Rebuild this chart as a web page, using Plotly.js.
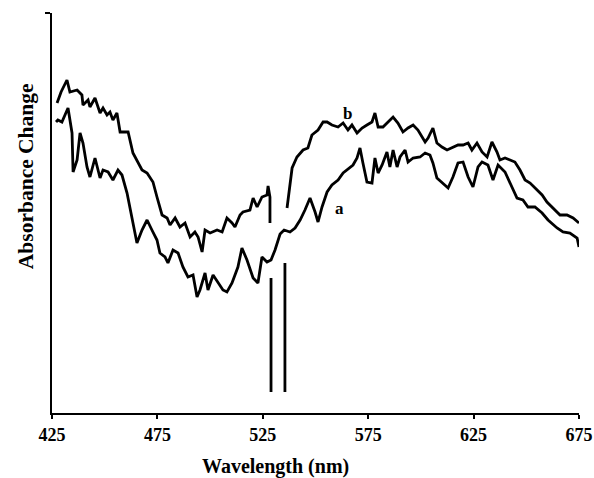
<!DOCTYPE html>
<html>
<head>
<meta charset="utf-8">
<script src="https://cdn.plot.ly/plotly-3.0.1.min.js"></script>
<style>html,body{margin:0;padding:0;background:#fff;}#chart{width:594px;height:478px;}</style>
</head>
<body>
<div id="chart"></div>
<script>
// Wavelength ticks
const tickValues = [425, 475, 525, 575, 625, 675];
const tickLabels = ["425", "475", "525", "575", "625", "675"];

// Curve a
const wavelengthA = [
  426.9, 427.8, 429.7, 432.6, 434.5, 435.0, 436.9, 438.3, 439.7, 441.6,
  443.0, 445.4, 447.8, 449.2, 451.6, 453.9, 456.3, 458.2, 460.6, 463.0,
  465.3, 467.7, 470.1, 472.4, 474.8, 476.2, 478.6, 480.0, 482.4, 484.8,
  487.1, 489.5, 491.9, 493.8, 495.2, 497.6, 499.0, 501.4, 503.8, 506.1,
  508.0, 510.4, 513.2, 515.1, 517.5, 520.4, 522.7, 524.6, 527.0, 528.9,
  530.8, 533.2, 535.1, 537.9, 540.3, 542.7, 545.0, 547.4, 549.8, 551.2,
  553.1, 555.5, 557.8, 560.7, 563.1, 565.0, 566.4, 567.8, 569.7, 571.1,
  572.5, 574.4, 576.8, 578.2, 579.7, 581.6, 583.9, 585.3, 586.8, 588.7,
  590.1, 592.5, 593.9, 596.3, 599.6, 602.0, 604.3, 605.7, 607.6, 610.5,
  612.9, 615.2, 617.6, 620.0, 622.4, 624.7, 627.1, 629.0, 631.8, 634.2,
  636.6, 639.9, 643.2, 645.6, 648.4, 650.8, 654.1, 657.5, 660.3, 664.6,
  667.4, 670.7, 674.1, 675.0
];
const absorbanceA = [
  72.75, 73.25, 72.75, 76.25, 70, 60.25, 63.25, 70, 67.5, 61.5,
  59, 63.75, 58.75, 60.75, 60.25, 58.25, 60.75, 59.5, 55, 48.75,
  42.5, 45.75, 48.25, 45.75, 43.25, 40, 39, 37.5, 40.75, 40,
  36.5, 34, 34.5, 29, 30.75, 35, 30.75, 34.5, 32.5, 30.75,
  30.25, 32.5, 36.5, 41.25, 38.25, 33.75, 32.5, 39, 37.75, 38.25,
  40.75, 44.75, 45.75, 45.25, 46.25, 48.25, 50.75, 53.75, 50.25, 47.75,
  51.5, 55.25, 57, 58.25, 60, 60.75, 61.25, 62, 63.75, 66.25,
  62.5, 57.75, 57.5, 63.75, 60, 62, 65.25, 61.5, 65.75, 61.5,
  64, 65.75, 62.75, 63.75, 64, 65, 64.5, 62.5, 58.75, 57.5,
  56.25, 59, 62.5, 62.75, 59, 56.5, 61.5, 62.75, 62, 58.25,
  62, 60.25, 56.5, 53.75, 53.25, 51.5, 51.5, 50, 48.25, 46.25,
  45.25, 45, 43.75, 41.5
];

// Curve b (null = break in the trace)
const wavelengthB = [
  427.4, 429.3, 432.1, 433.5, 436.9, 439.2, 439.7, 442.1, 443.0, 445.4,
  447.8, 449.2, 451.1, 452.5, 453.9, 455.8, 457.3, 461.1, 463.4, 467.7,
  470.1, 472.9, 474.8, 477.2, 479.6, 481.0, 483.4, 485.7, 488.1, 490.5,
  492.8, 494.3, 496.2, 497.6, 500.0, 503.3, 505.7, 508.0, 510.4, 511.8,
  514.2, 515.6, 518.9, 520.4, 522.3, 524.6, 527.0, 527.5, 528.4, 528.4,
  null, 528.9, 528.9, null, 535.5, 535.5, null,
  536.5, 538.9, 541.2, 544.1, 546.4, 548.3, 551.2, 553.6, 555.5, 557.8,
  560.7, 563.1, 565.4, 567.3, 569.7, 572.1, 574.4, 576.8, 578.2, 579.7,
  582.0, 584.4, 586.8, 589.1, 591.5, 593.9, 596.3, 598.6, 602.0, 603.4,
  605.7, 607.6, 610.0, 612.4, 614.8, 617.6, 620.0, 622.4, 624.2, 626.6,
  629.0, 631.4, 633.7, 636.1, 637.5, 639.9, 642.3, 644.6, 647.0, 649.4,
  651.8, 654.1, 657.5, 659.8, 662.7, 666.0, 669.3, 672.2, 675.0
];
const absorbanceB = [
  77.5, 80.25, 83.25, 80.25, 80.75, 79.5, 77, 78.25, 76.5, 78.75,
  75, 76.25, 74.5, 75.25, 73.25, 75, 70.25, 70.25, 65, 60.75,
  60, 57.75, 54, 49.5, 48.75, 47, 48.75, 46.5, 47.5, 44,
  45.25, 44, 40.25, 45.75, 45, 45.75, 45.25, 48.75, 47.5, 46.5,
  49.5, 50.25, 50.75, 53.75, 51.5, 54, 54.5, 56.75, 54, 47.5,
  null, 33.75, 5.25, null, 5.25, 37.5, null,
  51.25, 61.25, 64, 65.75, 66.25, 69.5, 70.75, 72.75, 72.75, 72,
  71.5, 72.5, 70.75, 72, 70, 71.25, 72, 72.75, 75, 71.5,
  71.5, 72.75, 74, 72.5, 70.25, 71.25, 72, 70.75, 67.75, 68.75,
  71.25, 67.5, 66.5, 65.75, 66.25, 67, 67, 67.5, 65.75, 67.5,
  65.25, 64, 67.75, 65.25, 63.25, 63.75, 63.25, 62.75, 60.75, 58.25,
  57.5, 56.25, 54.5, 52.75, 51.25, 49.5, 49.5, 48.75, 47.5
];

const curveLabels = ["a", "b"];
const labelWavelength = [561.6, 565.0];
const labelAbsorbance = [51.25, 75];

const serif = "Liberation Serif, Times New Roman, serif";

const traces = [
  {x: wavelengthA, y: absorbanceA, type: "scatter", mode: "lines", name: "a",
   line: {color: "#000", width: 2.8}, connectgaps: false, hoverinfo: "x+y"},
  {x: wavelengthB, y: absorbanceB, type: "scatter", mode: "lines", name: "b",
   line: {color: "#000", width: 2.8}, connectgaps: false, hoverinfo: "x+y"}
];

const annotations = curveLabels.map((t, i) => ({
  x: labelWavelength[i], y: labelAbsorbance[i], xref: "x", yref: "y",
  text: "<b>" + t + "</b>", showarrow: false,
  font: {family: serif, size: 17, color: "#000"}
}));
annotations.push({
  x: 0.425, y: -0.1325, xref: "paper", yref: "paper", xanchor: "center", yanchor: "middle",
  text: "<b>Wavelength (nm)</b>", showarrow: false,
  font: {family: serif, size: 20, color: "#000"}
});
annotations.push({
  x: -0.049, y: 0.5925, xref: "paper", yref: "paper", xanchor: "center", yanchor: "middle",
  text: "<b>Absorbance Change</b>", showarrow: false, textangle: -90,
  font: {family: serif, size: 21.5, color: "#000"}
});

const layout = {
  width: 594, height: 478,
  margin: {l: 52, r: 15, t: 13, b: 65},
  paper_bgcolor: "#fff", plot_bgcolor: "#fff",
  showlegend: false,
  xaxis: {
    range: [425, 675], tickvals: tickValues,
    ticktext: tickLabels.map(s => "<b>" + s + "</b>"),
    showgrid: false, zeroline: false, showline: true, linecolor: "#000", linewidth: 2,
    ticks: "outside", ticklen: 4, tickwidth: 2, tickcolor: "#000",
    tickfont: {family: serif, size: 18, color: "#000"},
    title: {text: ""}
  },
  yaxis: {
    range: [0, 100], tickvals: [100], showticklabels: false,
    showgrid: false, zeroline: false, showline: true, linecolor: "#000", linewidth: 2,
    ticks: "outside", ticklen: 5, tickwidth: 2, tickcolor: "#000",
    title: {text: ""}
  },
  annotations: annotations
};

Plotly.newPlot("chart", traces, layout, {displayModeBar: false, staticPlot: true});
</script>
</body>
</html>
